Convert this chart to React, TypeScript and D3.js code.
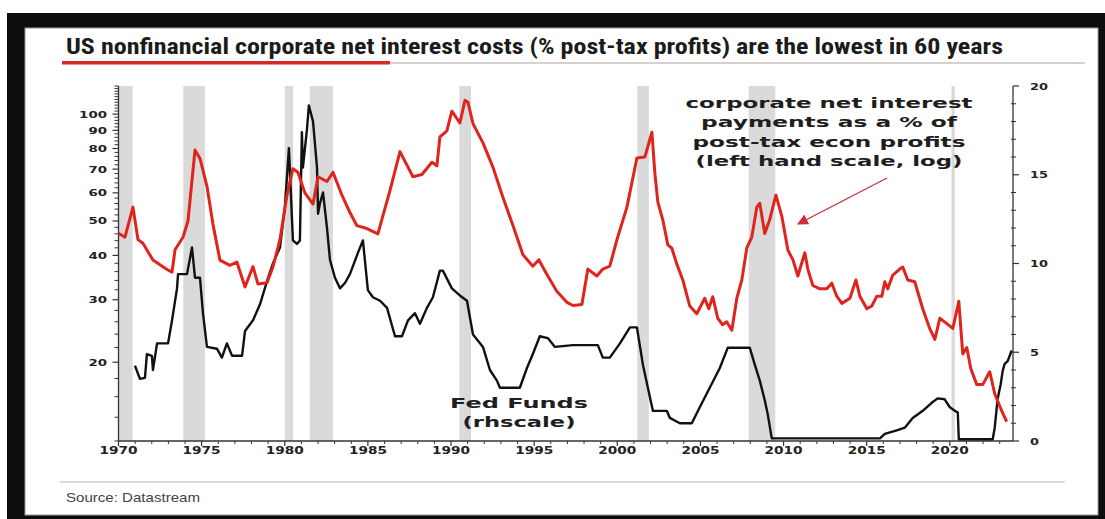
import React from "react";
import * as d3 from "d3";

// ---- data ----
const redYears = [
  1970.0, 1970.39, 1970.87, 1971.17, 1971.47, 1972.07, 1972.92, 1973.22, 1973.4, 1973.88,
  1974.18, 1974.6, 1974.9, 1975.32, 1975.68, 1976.1, 1976.7, 1977.12, 1977.61, 1978.09,
  1978.39, 1978.93, 1979.29, 1979.71, 1980.13, 1980.49, 1980.79, 1981.21, 1981.7, 1982.0,
  1982.54, 1982.9, 1983.44, 1983.92, 1984.34, 1984.94, 1985.6, 1986.33, 1986.93, 1987.71,
  1988.25, 1988.85, 1989.15, 1989.33, 1989.75, 1990.05, 1990.53, 1990.84, 1991.02, 1991.32,
  1991.92, 1992.52, 1993.12, 1993.72, 1994.32, 1994.92, 1995.28, 1995.76, 1996.36, 1996.97,
  1997.33, 1997.87, 1998.23, 1998.77, 1999.13, 1999.55, 1999.98, 2000.58, 2001.18, 2001.66,
  2002.08, 2002.26, 2002.44, 2002.74, 2003.04, 2003.28, 2003.58, 2003.94, 2004.36, 2004.78,
  2005.26, 2005.5, 2005.74, 2006.04, 2006.34, 2006.58, 2006.89, 2007.19, 2007.49, 2007.79,
  2008.09, 2008.39, 2008.57, 2008.87, 2009.17, 2009.54, 2009.9, 2010.26, 2010.56, 2010.86,
  2011.28, 2011.46, 2011.76, 2012.18, 2012.6, 2012.9, 2013.2, 2013.51, 2013.99, 2014.35,
  2014.59, 2015.01, 2015.31, 2015.61, 2015.91, 2016.09, 2016.27, 2016.57, 2016.99, 2017.17,
  2017.47, 2017.89, 2018.37, 2018.79, 2019.1, 2019.4, 2019.82, 2020.18, 2020.54, 2020.78,
  2021.02, 2021.26, 2021.62, 2021.98, 2022.4, 2022.7, 2023.12, 2023.42,
];
const interestPct = [
  46.2, 45, 54.7, 44.3, 43.3, 38.8, 36.5, 35.9, 41.5, 45,
  50, 79.2, 75, 62.6, 49, 38.8, 37.5, 38.3, 32.6, 37.2,
  33.2, 33.5, 37.1, 44.3, 59, 70.2, 68.6, 60, 55.8, 66.6,
  64.6, 68.6, 59.1, 52.8, 48.5, 47.6, 46, 61, 78.4, 66.6,
  67.6, 73.2, 71.5, 86.3, 89.7, 101.9, 94.4, 109.3, 108, 94,
  83, 70.9, 58.3, 48.6, 40.2, 37.3, 38.9, 35.4, 31.7, 29.5,
  28.9, 29.1, 36.6, 35, 36.6, 37.3, 44.3, 54.7, 75.2, 75.7,
  88.9, 68.2, 56.5, 50.3, 42.8, 41.9, 37.8, 34.1, 28.8, 27.4,
  30.3, 28.3, 30.6, 26.6, 25.5, 26, 24.6, 30.3, 34.1, 42,
  45, 54.7, 56.1, 46.1, 50.5, 59.1, 51.4, 41.4, 38.9, 35,
  40.7, 36.6, 32.9, 32.2, 32.2, 33.4, 30.7, 29.3, 30.3, 34.1,
  30.7, 28.3, 28.8, 30.7, 30.7, 33.7, 32.2, 35.2, 36.6, 37.1,
  34.1, 33.7, 28.3, 24.9, 23.2, 26.6, 25.7, 24.9, 29.7, 21.1,
  22, 19.2, 17.3, 17.3, 18.8, 16.3, 14.6, 13.6,
];

const ffYears = [
  1970.99, 1971.29, 1971.59, 1971.71, 1972.01, 1972.07, 1972.32, 1972.98, 1973.22, 1973.52,
  1973.58, 1974.12, 1974.42, 1974.6, 1974.9, 1975.08, 1975.32, 1975.92, 1976.22, 1976.52,
  1976.83, 1977.43, 1977.61, 1978.09, 1978.51, 1978.93, 1979.29, 1979.71, 1980.01, 1980.25,
  1980.49, 1980.73, 1980.91, 1981.03, 1981.09, 1981.33, 1981.45, 1981.7, 1981.94, 1982.0,
  1982.12, 1982.3, 1982.54, 1982.72, 1983.02, 1983.32, 1983.62, 1983.92, 1984.4, 1984.7,
  1985.0, 1985.3, 1985.73, 1986.15, 1986.63, 1987.05, 1987.41, 1987.83, 1988.13, 1988.55,
  1988.91, 1989.33, 1989.51, 1990.05, 1990.53, 1990.96, 1991.32, 1991.92, 1992.34, 1992.76,
  1992.94, 1994.14, 1994.56, 1994.92, 1995.34, 1995.82, 1996.25, 1997.33, 1998.83, 1999.13,
  1999.55, 2000.16, 2000.76, 2001.18, 2001.54, 2001.84, 2002.14, 2002.98, 2003.16, 2003.76,
  2004.48, 2004.96, 2005.56, 2006.16, 2006.64, 2007.97, 2008.27, 2008.57, 2008.87, 2009.05,
  2009.29, 2015.8, 2016.09, 2016.81, 2017.29, 2017.77, 2018.37, 2018.91, 2019.27, 2019.69,
  2020.0, 2020.3, 2020.48, 2020.54, 2022.58, 2022.7, 2022.88, 2023.06, 2023.18, 2023.3,
  2023.48, 2023.72,
];
const fedFunds = [
  4.24, 3.5, 3.56, 4.9, 4.8, 4.0, 5.5, 5.5, 6.8, 8.6,
  9.4, 9.4, 10.9, 9.2, 9.2, 7.2, 5.3, 5.2, 4.7, 5.5,
  4.8, 4.8, 6.2, 6.8, 7.7, 9.0, 10, 10.9, 13.2, 16.5,
  11.3, 11.1, 11.3, 17.4, 15.4, 17.5, 18.9, 18, 15.4, 12.8,
  13.4, 14, 12, 10.2, 9.2, 8.6, 8.9, 9.4, 10.6, 11.3,
  8.5, 8.1, 7.9, 7.5, 5.9, 5.9, 6.8, 7.2, 6.6, 7.5,
  8.1, 9.6, 9.6, 8.6, 8.2, 7.9, 6.0, 5.3, 4.0, 3.4,
  3.0, 3.0, 4.1, 4.9, 5.9, 5.8, 5.3, 5.4, 5.4, 4.7,
  4.7, 5.5, 6.4, 6.4, 4.3, 3.0, 1.7, 1.7, 1.3, 1.0,
  1.0, 1.9, 3.0, 4.1, 5.25, 5.25, 4.3, 3.4, 2.3, 1.5,
  0.15, 0.15, 0.4, 0.6, 0.75, 1.3, 1.7, 2.15, 2.4, 2.35,
  1.9, 1.7, 1.6, 0.1, 0.1, 0.75, 2.4, 3.2, 3.95, 4.35,
  4.5, 5.1,
];

const recessionStart = [1970.0, 1973.9, 1980.0, 1981.5, 1990.5, 2001.2, 2007.9, 2020.1];
const recessionEnd = [1970.85, 1975.2, 1980.5, 1982.9, 1991.2, 2001.9, 2009.5, 2020.3];

const leftTickLabels = [20, 30, 40, 50, 60, 70, 80, 90, 100];
const rightTickLabels = [0, 5, 10, 15, 20];
const yearTickLabels = [1970, 1975, 1980, 1985, 1990, 1995, 2000, 2005, 2010, 2015, 2020];

const titleText =
  "US nonfinancial corporate net interest costs (% post-tax profits) are the lowest in 60 years";
const annotationLines = [
  "corporate net interest",
  "payments as a % of",
  "post-tax econ profits",
  "(left hand scale, log)",
];
const fedLabelLines = ["Fed Funds", "(rhscale)"];
const sourceText = "Source: Datastream";

// ---- layout ----
const W = 1105;
const H = 519;
const left = 118.5;
const right = 1013;
const top = 86;
const bottom = 441;

const wideFont = "'DejaVu Sans', Verdana, sans-serif";

export default function App() {
  const x = d3.scaleLinear().domain([1970, 2023.8]).range([left, right]);
  const yL = d3.scaleLog().domain([12, 120]).range([bottom, top]);
  const yR = d3.scaleLinear().domain([0, 20]).range([bottom, top]);

  const redLine = d3
    .line<number>()
    .x((_, i) => x(redYears[i]))
    .y((v) => yL(v));
  const ffLine = d3
    .line<number>()
    .x((_, i) => x(ffYears[i]))
    .y((v) => yR(v));

  const leftMinor = d3.range(12, 121, 2).filter((v) => !leftTickLabels.includes(v));
  const rightMinor = d3.range(0, 21, 1).filter((v) => v % 5 !== 0);
  const yearMinor = d3.range(1971, 2024, 1).filter((v) => v % 5 !== 0);

  const annotationLengths = [287, 256, 273, 267];
  const annotationBaselines = [108, 127, 147, 166];

  return (
    <svg
      width={W}
      height={H}
      style={{ position: "absolute", left: 0, top: 0, display: "block" }}
    >
      <defs>
        <marker
          id="arrowHead"
          viewBox="0 0 10 10"
          refX="9"
          refY="5"
          markerWidth="11"
          markerHeight="11"
          markerUnits="userSpaceOnUse"
          orient="auto"
        >
          <path d="M0,0 L10,5 L0,10 Z" fill="#cc2f3a" />
        </marker>
      </defs>
      <rect x={0} y={0} width={W} height={H} fill="#ffffff" />
      <rect x={7} y={13} width={W - 7} height={H - 13} fill="#0d0d0d" />
      <rect x={25} y={28} width={1073} height={487} fill="#ffffff" stroke="#9a9a9a" strokeWidth={1} />

      {/* title */}
      <text
        x={66}
        y={54}
        fontFamily="'Liberation Sans Narrow', 'Roboto Condensed', 'Liberation Sans', Arial, sans-serif"
        fontWeight="bold"
        fontSize={22}
        fill="#1b1b1b"
        textLength={937}
        lengthAdjust="spacingAndGlyphs"
      >
        {titleText}
      </text>
      <line x1={62} x2={1085} y1={63} y2={63} stroke="#cdbfbf" strokeWidth={1.5} />
      <rect x={62} y={61} width={328} height={3.5} fill="#d42a26" />

      {/* recession bands */}
      {recessionStart.map((s, i) => (
        <rect
          key={"r" + i}
          x={x(Math.max(1970, s))}
          y={top}
          width={x(recessionEnd[i]) - x(Math.max(1970, s))}
          height={bottom - top}
          fill="#dadada"
        />
      ))}

      {/* axes */}
      <line x1={left} x2={left} y1={top} y2={bottom} stroke="#333" strokeWidth={1.3} />
      <line x1={right} x2={right} y1={top} y2={bottom} stroke="#333" strokeWidth={1.3} />
      <line x1={left} x2={right} y1={bottom} y2={bottom} stroke="#333" strokeWidth={1.3} />

      {leftMinor.map((v) => (
        <line key={"lm" + v} x1={left - 4} x2={left} y1={yL(v)} y2={yL(v)} stroke="#333" strokeWidth={1} />
      ))}
      {leftTickLabels.map((v) => (
        <g key={"lt" + v}>
          <line x1={left - 6} x2={left} y1={yL(v)} y2={yL(v)} stroke="#333" strokeWidth={1.2} />
          <text
            x={107}
            y={yL(v) + 3.5}
            textAnchor="end"
            fontFamily={wideFont}
            fontWeight="bold"
            fontSize={9.5}
            fill="#222"
            textLength={String(v).length * 9.3}
            lengthAdjust="spacingAndGlyphs"
          >
            {v}
          </text>
        </g>
      ))}

      {rightMinor.map((v) => (
        <line key={"rm" + v} x1={right - 2} x2={right + 3} y1={yR(v)} y2={yR(v)} stroke="#333" strokeWidth={1} />
      ))}
      {rightTickLabels.map((v) => (
        <g key={"rt" + v}>
          <line x1={right} x2={right + 6} y1={yR(v)} y2={yR(v)} stroke="#333" strokeWidth={1.2} />
          <text
            x={1030}
            y={yR(v) + 3.5}
            fontFamily={wideFont}
            fontWeight="bold"
            fontSize={9.5}
            fill="#222"
            textLength={String(v).length * 9}
            lengthAdjust="spacingAndGlyphs"
          >
            {v}
          </text>
        </g>
      ))}

      {yearMinor.map((v) => (
        <line key={"ym" + v} x1={x(v)} x2={x(v)} y1={bottom} y2={bottom + 3} stroke="#333" strokeWidth={1} />
      ))}
      {yearTickLabels.map((v) => (
        <g key={"yt" + v}>
          <line x1={x(v)} x2={x(v)} y1={bottom} y2={bottom + 5} stroke="#333" strokeWidth={1.2} />
          <text
            x={x(v)}
            y={454}
            textAnchor="middle"
            fontFamily={wideFont}
            fontWeight="bold"
            fontSize={10}
            fill="#222"
            textLength={38}
            lengthAdjust="spacingAndGlyphs"
          >
            {v}
          </text>
        </g>
      ))}

      {/* series */}
      <path d={ffLine(fedFunds) || ""} fill="none" stroke="#111" strokeWidth={2.4} strokeLinejoin="round" />
      <path d={redLine(interestPct) || ""} fill="none" stroke="#e0241c" strokeWidth={3} strokeLinejoin="round" />

      {/* annotations */}
      {annotationLines.map((t, i) => (
        <text
          key={"a" + i}
          x={829}
          y={annotationBaselines[i]}
          textAnchor="middle"
          fontFamily={wideFont}
          fontWeight="bold"
          fontSize={13.5}
          fill="#1e1e1e"
          textLength={annotationLengths[i]}
          lengthAdjust="spacingAndGlyphs"
        >
          {t}
        </text>
      ))}
      <line
        x1={887}
        y1={178}
        x2={798}
        y2={224}
        stroke="#cc2f3a"
        strokeWidth={1.4}
        markerEnd="url(#arrowHead)"
      />

      {fedLabelLines.map((t, i) => (
        <text
          key={"f" + i}
          x={519}
          y={408 + i * 19}
          textAnchor="middle"
          fontFamily={wideFont}
          fontWeight="bold"
          fontSize={13.5}
          fill="#1e1e1e"
          textLength={i === 0 ? 138 : 113}
          lengthAdjust="spacingAndGlyphs"
        >
          {t}
        </text>
      ))}

      {/* source */}
      <line x1={60} x2={1065} y1={482} y2={482} stroke="#cfcfcf" strokeWidth={1.5} />
      <text
        x={66}
        y={502}
        fontFamily="'Liberation Sans Narrow', 'Liberation Sans', Arial, sans-serif"
        fontSize={13.5}
        fill="#444"
        textLength={134}
        lengthAdjust="spacingAndGlyphs"
      >
        {sourceText}
      </text>
    </svg>
  );
}
